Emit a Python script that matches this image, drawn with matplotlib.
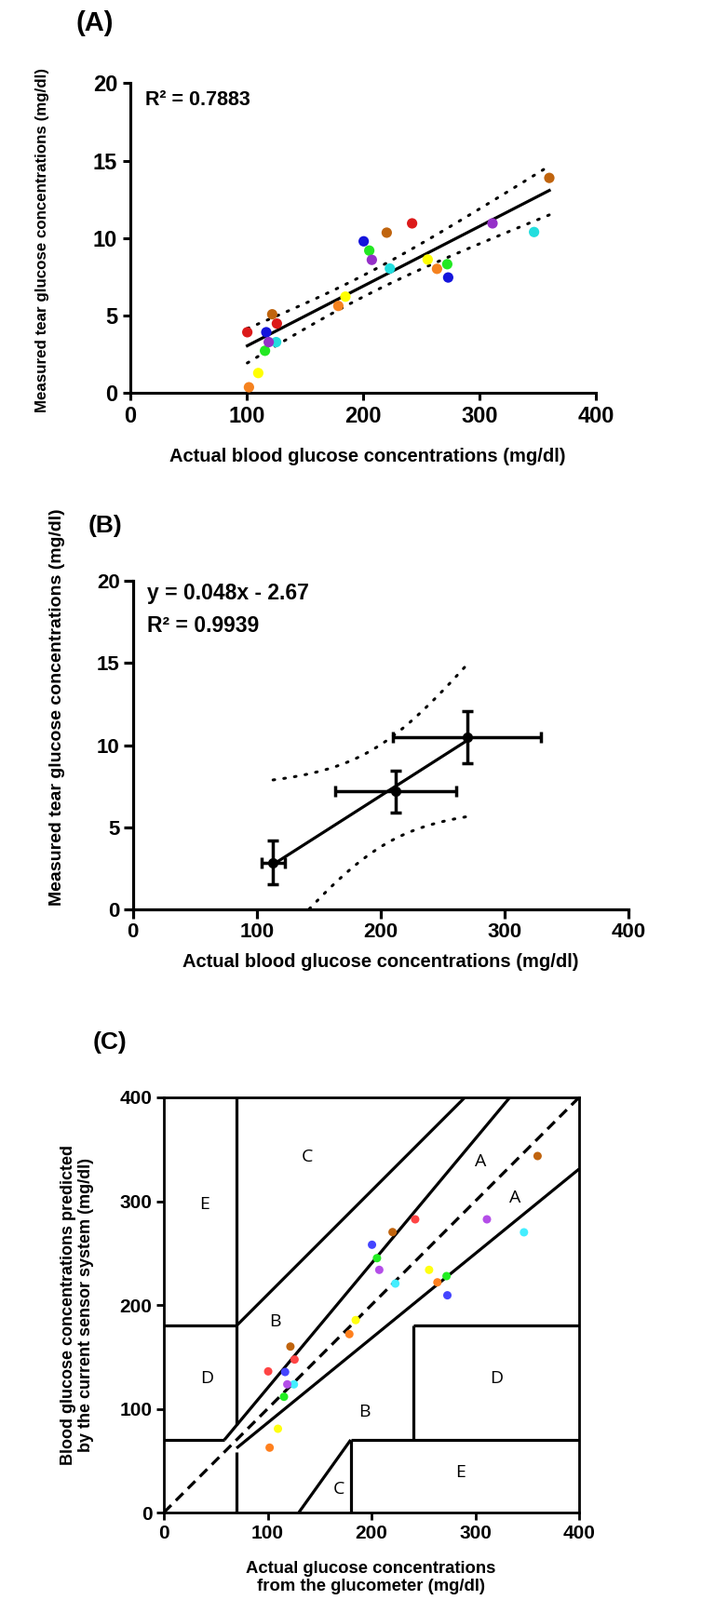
import numpy as np
import matplotlib
matplotlib.use("Agg")
import matplotlib.pyplot as plt

plt.rcParams["font.family"] = ["Liberation Sans", "DejaVu Sans"]
NARROW = ["Liberation Sans Narrow", "Liberation Sans", "DejaVu Sans"]

# ----------------------------------------------------------------- data
# 8 subjects (one colour each), 3 measurements per subject
blood_glucose = [
    [100.5, 125.9, 242.1],   # red
    [101.9, 178.7, 263.5],   # orange
    [109.9, 184.8, 255.5],   # yellow
    [115.7, 205.3, 272.3],   # green
    [125.3, 223.0, 346.9],   # cyan
    [116.8, 200.5, 273.1],   # blue
    [118.9, 207.5, 311.2],   # purple
    [121.9, 220.3, 360.0],   # brown
]
tear_glucose = [
    [3.90, 4.46, 10.94],
    [0.34, 5.60, 8.00],
    [1.26, 6.20, 8.60],
    [2.70, 9.18, 8.30],
    [3.26, 8.02, 10.38],
    [3.90, 9.78, 7.44],
    [3.26, 8.58, 10.94],
    [5.06, 10.34, 13.88],
]
predicted_glucose = [
    [136.0, 147.4, 282.5],
    [62.5, 171.9, 221.8],
    [80.7, 185.4, 233.8],
    [111.5, 245.1, 227.8],
    [123.5, 220.6, 270.0],
    [135.4, 258.0, 209.3],
    [123.5, 233.8, 282.5],
    [159.9, 270.2, 343.5],
]
colours_a = ["#dc1a1a", "#f5821f", "#ffff00", "#22e822", "#22dede",
             "#1414dc", "#9530c8", "#c0640e"]
colours_c = ["#ff4444", "#ff801e", "#ffff10", "#22ee22", "#44eeff",
             "#4444ff", "#b44ee8", "#c0640e"]

# panel B: group means +- SD
group_blood_mean = [113.2, 212.5, 269.9]
group_blood_sd = [9.4, 49.0, 60.0]
group_tear_mean = [2.87, 7.18, 10.50]
group_tear_sd = [1.35, 1.30, 1.57]

# Clarke error grid boundaries (x0, x1, y0, y1)
clarke_lines = [
    (0, 58.3, 70, 70), (58.3, 333.3, 70, 400), (70, 70, 84, 400),
    (0, 70, 180, 180), (70, 290, 180, 400), (70, 70, 0, 58),
    (70, 400, 62, 331), (180, 180, 0, 70), (180, 400, 70, 70),
    (240, 240, 70, 180), (240, 400, 180, 180), (130, 180, 0, 70),
]
zone_names = ["E", "C", "B", "A", "A", "D", "B", "C", "D", "E"]
zone_x = [39, 138, 107, 305, 338, 41, 193, 169, 320, 286]
zone_y = [297, 343, 184, 338, 303, 129, 97, 22, 129, 39]

W, H = 754, 1719


def box(left, top, right, bottom):
    return [left / W, 1 - bottom / H, (right - left) / W, (bottom - top) / H]


def fx(px):
    return px / W


def fy(py):
    return 1 - py / H


def ci_band(x, y, xs, t):
    x, y = np.asarray(x, float), np.asarray(y, float)
    b, a = np.polyfit(x, y, 1)
    s = np.sqrt(np.sum((y - (a + b * x)) ** 2) / (len(x) - 2))
    sxx = np.sum((x - x.mean()) ** 2)
    half = t * s * np.sqrt(1 / len(x) + (xs - x.mean()) ** 2 / sxx)
    fit = a + b * xs
    return fit, fit - half, fit + half


def style_axes(ax, lw, tick_len, size, family, pad=3):
    for side in ["left", "bottom"]:
        ax.spines[side].set_linewidth(lw)
    ax.spines["top"].set_visible(False)
    ax.spines["right"].set_visible(False)
    ax.tick_params(direction="out", length=tick_len, width=lw, pad=pad)
    for lab in ax.get_xticklabels() + ax.get_yticklabels():
        lab.set_fontsize(size)
        lab.set_fontweight("bold")
        lab.set_family(family)


fig = plt.figure(figsize=(W / 100, H / 100), dpi=100)
dots = (0, (0.6, 3.2))

# ----------------------------------------------------------------- (A)
axA = fig.add_axes(box(140, 89.5, 640, 421.7))
for xs_, ys_, c in zip(blood_glucose, tear_glucose, colours_a):
    axA.scatter(xs_, ys_, s=65, color=c, edgecolor="none", zorder=3)
xa = np.concatenate(blood_glucose)
ya = np.concatenate(tear_glucose)
xs = np.linspace(xa.min(), xa.max(), 100)
fit, lo, hi = ci_band(xa, ya, xs, 2.074)
axA.plot(xs, fit, color="black", lw=2.3, zorder=2)
axA.plot(xs, lo, color="black", lw=2.2, ls=dots, dash_capstyle="round")
axA.plot(xs, hi, color="black", lw=2.2, ls=dots, dash_capstyle="round")
axA.set_xlim(0, 400)
axA.set_ylim(0, 20)
axA.set_xticks([0, 100, 200, 300, 400])
axA.set_yticks([0, 5, 10, 15, 20])
style_axes(axA, 2.2, 6, 17, NARROW, pad=4)
axA.text(12.8, 18.9, "R² = 0.7883", fontsize=15.5, fontweight="bold",
         family=NARROW, va="center", ha="left")
fig.text(fx(46), fy(258), "Measured tear glucose concentrations (mg/dl)",
         rotation=90, fontsize=12.2, fontweight="bold", ha="center", va="center")
fig.text(fx(395), fy(491), "Actual blood glucose concentrations (mg/dl)",
         fontsize=14.5, fontweight="bold", ha="center", va="center")
fig.text(fx(102), fy(25), "(A)", fontsize=21, fontweight="bold",
         family=NARROW, ha="center", va="center")

# ----------------------------------------------------------------- (B)
axB = fig.add_axes(box(142.7, 624, 674.7, 977.3))
axB.errorbar(group_blood_mean, group_tear_mean, xerr=group_blood_sd,
             yerr=group_tear_sd, fmt="o", color="black", ms=7, elinewidth=2.5,
             capsize=4, capthick=2.5, zorder=3)
xs = np.linspace(min(group_blood_mean), max(group_blood_mean), 100)
fit, lo, hi = ci_band(group_blood_mean, group_tear_mean, xs, 12.706)
axB.plot(xs, fit, color="black", lw=2.3)
axB.plot(xs, lo, color="black", lw=2.2, ls=dots, dash_capstyle="round")
axB.plot(xs, hi, color="black", lw=2.2, ls=dots, dash_capstyle="round")
axB.set_xlim(0, 400)
axB.set_ylim(0, 20)
axB.set_xticks([0, 100, 200, 300, 400])
axB.set_yticks([0, 5, 10, 15, 20])
style_axes(axB, 2.3, 7, 16, ["Liberation Sans", "DejaVu Sans"])
axB.text(11.5, 19.26, "y = 0.048x - 2.67", fontsize=16.5, fontweight="bold",
         va="center", ha="left")
axB.text(11.5, 17.28, "R² = 0.9939", fontsize=16.5, fontweight="bold",
         va="center", ha="left")
fig.text(fx(62), fy(760), "Measured tear glucose concentrations (mg/dl)",
         rotation=90, fontsize=14, fontweight="bold", ha="center", va="center")
fig.text(fx(409), fy(1033), "Actual blood glucose concentrations (mg/dl)",
         fontsize=14.5, fontweight="bold", ha="center", va="center")
fig.text(fx(113), fy(565), "(B)", fontsize=19, fontweight="bold",
         ha="center", va="center")

# ----------------------------------------------------------------- (C)
axC = fig.add_axes(box(176, 1179, 622, 1625))
for x0, x1, y0, y1 in clarke_lines:
    axC.plot([x0, x1], [y0, y1], color="black", lw=2.3, solid_capstyle="butt")
axC.plot([0, 400], [0, 400], color="black", lw=2.3, ls=(0, (3.5, 2.2)))
for name, zx, zy in zip(zone_names, zone_x, zone_y):
    axC.text(zx, zy, name, fontsize=14, family=["Open Sans", "DejaVu Sans"],
             ha="center", va="center")
for xs_, ys_, c in zip(blood_glucose, predicted_glucose, colours_c):
    axC.scatter(xs_, ys_, s=42, color=c, edgecolor="none", zorder=3)
axC.set_xlim(0, 400)
axC.set_ylim(0, 400)
axC.set_xticks([0, 100, 200, 300, 400])
axC.set_yticks([0, 100, 200, 300, 400])
style_axes(axC, 2.0, 6, 15, ["Liberation Sans", "DejaVu Sans"])
for side in ["top", "right"]:
    axC.spines[side].set_visible(True)
    axC.spines[side].set_linewidth(2.0)
fig.text(fx(83), fy(1402),
         "Blood glucose concentrations predicted\nby the current sensor system (mg/dl)",
         rotation=90, fontsize=13, fontweight="bold", ha="center",
         va="center", linespacing=1.15)
fig.text(fx(398), fy(1695),
         "Actual glucose concentrations\nfrom the glucometer (mg/dl)",
         fontsize=13.3, fontweight="bold", ha="center", va="center",
         linespacing=1.15)
fig.text(fx(118), fy(1120), "(C)", fontsize=19, fontweight="bold",
         ha="center", va="center")

fig.savefig("out.png", dpi=100)
